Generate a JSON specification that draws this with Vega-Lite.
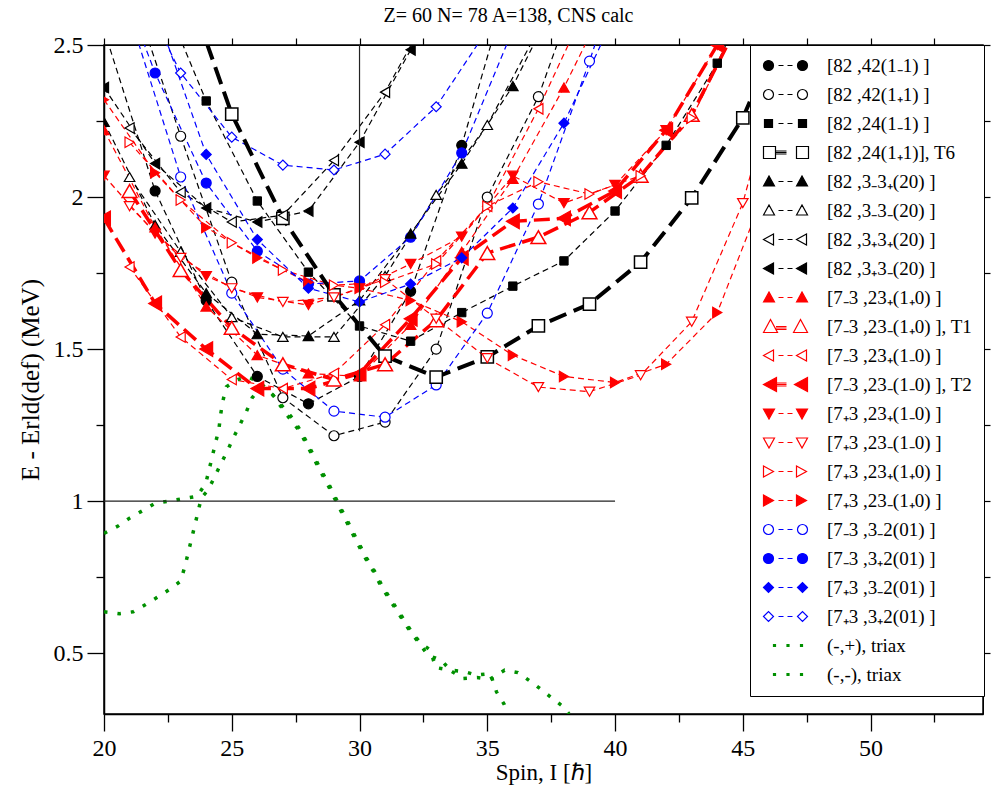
{
"$schema":"https://vega.github.io/schema/vega-lite/v6.json",
"width":879,"height":669,
"autosize":{"type":"none"},
"padding":{"left":104,"top":45,"right":9,"bottom":76},
"background":"white",
"title":{"text":"Z= 60 N= 78 A=138, CNS calc","font":"Liberation Serif","fontSize":20,"fontWeight":"normal","color":"black","offset":7,"frame":"group","dx":-35},
"config":{"view":{"stroke":"black","strokeWidth":1.5},"font":"Liberation Serif","title":{"fontSize":20}},
"datasets":{
"names":[
{"k":"A","name":"[82 ,42(1₋1) ]"},{"k":"B","name":"[82 ,42(1₊1) ]"},{"k":"C","name":"[82 ,24(1₋1) ]"},{"k":"D","name":"[82 ,24(1₊1)], T6"},
{"k":"E","name":"[82 ,3₋3₊(20) ]"},{"k":"F","name":"[82 ,3₋3₋(20) ]"},{"k":"G","name":"[82 ,3₊3₊(20) ]"},{"k":"H","name":"[82 ,3₊3₋(20) ]"},
{"k":"I","name":"[7₋3 ,23₊(1₊0) ]"},{"k":"J","name":"[7₋3 ,23₋(1₊0) ], T1"},{"k":"K","name":"[7₋3 ,23₊(1₋0) ]"},{"k":"L","name":"[7₋3 ,23₋(1₋0) ], T2"},
{"k":"M","name":"[7₊3 ,23₊(1₋0) ]"},{"k":"N","name":"[7₊3 ,23₋(1₋0) ]"},{"k":"O","name":"[7₊3 ,23₊(1₊0) ]"},{"k":"P","name":"[7₊3 ,23₋(1₊0) ]"},
{"k":"Q","name":"[7₋3 ,3₋2(01) ]"},{"k":"R","name":"[7₋3 ,3₊2(01) ]"},{"k":"S","name":"[7₊3 ,3₋2(01) ]"},{"k":"T","name":"[7₊3 ,3₊2(01) ]"},
{"k":"U","name":"(-,+), triax"},{"k":"V","name":"(-,-), triax"}
],
"curves":[
{"k":"A","x":20,"y":2.55},{"k":"A","x":22,"y":2.02},{"k":"A","x":24,"y":1.66},{"k":"A","x":26,"y":1.41},{"k":"A","x":28,"y":1.32},{"k":"A","x":30,"y":1.41},{"k":"A","x":32,"y":1.69},{"k":"A","x":34,"y":2.17},{"k":"A","x":36,"y":2.75},
{"k":"B","x":21,"y":2.7},{"k":"B","x":23,"y":2.2},{"k":"B","x":25,"y":1.72},{"k":"B","x":27,"y":1.34},{"k":"B","x":29,"y":1.215},{"k":"B","x":31,"y":1.26},{"k":"B","x":33,"y":1.5},{"k":"B","x":35,"y":2.0},{"k":"B","x":37,"y":2.33},{"k":"B","x":39,"y":2.8},
{"k":"C","x":22,"y":2.72},{"k":"C","x":24,"y":2.316},{"k":"C","x":26,"y":1.987},{"k":"C","x":28,"y":1.753},{"k":"C","x":30,"y":1.576},{"k":"C","x":32,"y":1.526},{"k":"C","x":34,"y":1.62},{"k":"C","x":36,"y":1.707},{"k":"C","x":38,"y":1.79},{"k":"C","x":40,"y":1.954},{"k":"C","x":42,"y":2.17},{"k":"C","x":44,"y":2.44},{"k":"C","x":46,"y":2.8},
{"k":"D","x":23,"y":2.75},{"k":"D","x":25,"y":2.273},{"k":"D","x":27,"y":1.93},{"k":"D","x":29,"y":1.678},{"k":"D","x":31,"y":1.477},{"k":"D","x":33,"y":1.408},{"k":"D","x":35,"y":1.474},{"k":"D","x":37,"y":1.576},{"k":"D","x":39,"y":1.648},{"k":"D","x":41,"y":1.786},{"k":"D","x":43,"y":1.997},{"k":"D","x":45,"y":2.26},{"k":"D","x":47,"y":2.65},
{"k":"E","x":20,"y":2.247},{"k":"E","x":22,"y":1.908},{"k":"E","x":24,"y":1.684},{"k":"E","x":26,"y":1.549},{"k":"E","x":28,"y":1.543},{"k":"E","x":30,"y":1.66},{"k":"E","x":32,"y":1.88},{"k":"E","x":34,"y":2.11},{"k":"E","x":36,"y":2.365},{"k":"E","x":38,"y":2.7},
{"k":"F","x":21,"y":2.066},{"k":"F","x":23,"y":1.82},{"k":"F","x":25,"y":1.605},{"k":"F","x":27,"y":1.54},{"k":"F","x":29,"y":1.54},{"k":"F","x":31,"y":1.74},{"k":"F","x":33,"y":2.007},{"k":"F","x":35,"y":2.237},{"k":"F","x":37,"y":2.55},
{"k":"G","x":21,"y":2.227},{"k":"G","x":23,"y":2.016},{"k":"G","x":25,"y":1.918},{"k":"G","x":27,"y":1.94},{"k":"G","x":29,"y":2.12},{"k":"G","x":31,"y":2.345},{"k":"G","x":33,"y":2.65},
{"k":"H","x":20,"y":2.36},{"k":"H","x":22,"y":2.11},{"k":"H","x":24,"y":1.964},{"k":"H","x":26,"y":1.918},{"k":"H","x":28,"y":1.954},{"k":"H","x":30,"y":2.18},{"k":"H","x":32,"y":2.484},{"k":"H","x":34,"y":2.85},
{"k":"I","x":20,"y":2.22},{"k":"I","x":22,"y":1.9},{"k":"I","x":24,"y":1.64},{"k":"I","x":26,"y":1.48},{"k":"I","x":28,"y":1.42},{"k":"I","x":30,"y":1.41},{"k":"I","x":32,"y":1.58},{"k":"I","x":34,"y":1.82},{"k":"I","x":36,"y":2.06},{"k":"I","x":38,"y":2.36},{"k":"I","x":40,"y":2.7},
{"k":"J","x":21,"y":2.02},{"k":"J","x":23,"y":1.76},{"k":"J","x":25,"y":1.57},{"k":"J","x":27,"y":1.45},{"k":"J","x":29,"y":1.4},{"k":"J","x":31,"y":1.45},{"k":"J","x":33,"y":1.595},{"k":"J","x":35,"y":1.816},{"k":"J","x":37,"y":1.868},{"k":"J","x":39,"y":1.95},{"k":"J","x":41,"y":2.07},{"k":"J","x":43,"y":2.27},{"k":"J","x":45,"y":2.6},
{"k":"K","x":21,"y":1.77},{"k":"K","x":23,"y":1.54},{"k":"K","x":25,"y":1.4},{"k":"K","x":27,"y":1.37},{"k":"K","x":29,"y":1.42},{"k":"K","x":31,"y":1.58},{"k":"K","x":33,"y":1.79},{"k":"K","x":35,"y":1.97},{"k":"K","x":37,"y":2.29},{"k":"K","x":39,"y":2.65},
{"k":"L","x":20,"y":1.93},{"k":"L","x":22,"y":1.65},{"k":"L","x":24,"y":1.5},{"k":"L","x":26,"y":1.37},{"k":"L","x":28,"y":1.37},{"k":"L","x":30,"y":1.42},{"k":"L","x":32,"y":1.6},{"k":"L","x":34,"y":1.8},{"k":"L","x":36,"y":1.92},{"k":"L","x":38,"y":1.93},{"k":"L","x":40,"y":2.02},{"k":"L","x":42,"y":2.22},{"k":"L","x":44,"y":2.5},{"k":"L","x":46,"y":2.85},
{"k":"M","x":20,"y":2.07},{"k":"M","x":22,"y":1.88},{"k":"M","x":24,"y":1.74},{"k":"M","x":26,"y":1.67},{"k":"M","x":28,"y":1.645},{"k":"M","x":30,"y":1.7},{"k":"M","x":32,"y":1.78},{"k":"M","x":34,"y":1.87},{"k":"M","x":36,"y":2.07},{"k":"M","x":38,"y":1.98},{"k":"M","x":40,"y":2.04},{"k":"M","x":42,"y":2.22},{"k":"M","x":44,"y":2.5},{"k":"M","x":46,"y":2.85},
{"k":"N","x":21,"y":1.97},{"k":"N","x":23,"y":1.8},{"k":"N","x":25,"y":1.7},{"k":"N","x":27,"y":1.655},{"k":"N","x":29,"y":1.67},{"k":"N","x":31,"y":1.73},{"k":"N","x":33,"y":1.6},{"k":"N","x":35,"y":1.47},{"k":"N","x":37,"y":1.375},{"k":"N","x":39,"y":1.36},{"k":"N","x":41,"y":1.414},{"k":"N","x":43,"y":1.59},{"k":"N","x":45,"y":1.98},{"k":"N","x":47,"y":2.6},
{"k":"O","x":21,"y":2.18},{"k":"O","x":23,"y":1.99},{"k":"O","x":25,"y":1.85},{"k":"O","x":27,"y":1.76},{"k":"O","x":29,"y":1.71},{"k":"O","x":31,"y":1.72},{"k":"O","x":33,"y":1.78},{"k":"O","x":35,"y":1.97},{"k":"O","x":37,"y":2.05},{"k":"O","x":39,"y":2.01},{"k":"O","x":41,"y":2.07},{"k":"O","x":43,"y":2.26},{"k":"O","x":45,"y":2.6},
{"k":"P","x":20,"y":2.32},{"k":"P","x":22,"y":2.08},{"k":"P","x":24,"y":1.9},{"k":"P","x":26,"y":1.8},{"k":"P","x":28,"y":1.72},{"k":"P","x":30,"y":1.7},{"k":"P","x":32,"y":1.66},{"k":"P","x":34,"y":1.59},{"k":"P","x":36,"y":1.48},{"k":"P","x":38,"y":1.41},{"k":"P","x":40,"y":1.39},{"k":"P","x":42,"y":1.45},{"k":"P","x":44,"y":1.62},{"k":"P","x":46,"y":2.05},{"k":"P","x":48,"y":2.6},
{"k":"Q","x":21,"y":2.6},{"k":"Q","x":23,"y":2.066},{"k":"Q","x":25,"y":1.684},{"k":"Q","x":27,"y":1.434},{"k":"Q","x":29,"y":1.296},{"k":"Q","x":31,"y":1.276},{"k":"Q","x":33,"y":1.382},{"k":"Q","x":35,"y":1.618},{"k":"Q","x":37,"y":1.977},{"k":"Q","x":39,"y":2.447},{"k":"Q","x":41,"y":2.95},
{"k":"R","x":20,"y":2.85},{"k":"R","x":22,"y":2.408},{"k":"R","x":24,"y":2.046},{"k":"R","x":26,"y":1.822},{"k":"R","x":28,"y":1.714},{"k":"R","x":30,"y":1.724},{"k":"R","x":32,"y":1.868},{"k":"R","x":34,"y":2.145},{"k":"R","x":36,"y":2.55},
{"k":"S","x":22,"y":2.62},{"k":"S","x":24,"y":2.14},{"k":"S","x":26,"y":1.86},{"k":"S","x":28,"y":1.7},{"k":"S","x":30,"y":1.655},{"k":"S","x":32,"y":1.714},{"k":"S","x":34,"y":1.8},{"k":"S","x":36,"y":1.964},{"k":"S","x":38,"y":2.243},{"k":"S","x":40,"y":2.6},
{"k":"T","x":21,"y":2.75},{"k":"T","x":23,"y":2.408},{"k":"T","x":25,"y":2.197},{"k":"T","x":27,"y":2.105},{"k":"T","x":29,"y":2.089},{"k":"T","x":31,"y":2.141},{"k":"T","x":33,"y":2.297},{"k":"T","x":35,"y":2.55},
{"k":"U","x":20,"y":0.894},{"k":"U","x":20.55,"y":0.918},{"k":"U","x":21.0,"y":0.944},{"k":"U","x":21.5,"y":0.968},{"k":"U","x":21.98,"y":0.992},{"k":"U","x":22.53,"y":1.0},{"k":"U","x":23.09,"y":1.008},{"k":"U","x":23.64,"y":1.016},{"k":"U","x":23.98,"y":1.058},{"k":"U","x":24.11,"y":1.102},{"k":"U","x":24.24,"y":1.148},{"k":"U","x":24.37,"y":1.193},{"k":"U","x":24.5,"y":1.239},{"k":"U","x":24.57,"y":1.288},{"k":"U","x":24.66,"y":1.332},{"k":"U","x":24.79,"y":1.376},{"k":"U","x":25.18,"y":1.398},{"k":"U","x":25.6,"y":1.41},{"k":"U","x":26.1,"y":1.39},{"k":"U","x":26.6,"y":1.35},{"k":"U","x":27.1,"y":1.29},{"k":"U","x":27.67,"y":1.228},{"k":"U","x":28.18,"y":1.146},{"k":"U","x":28.44,"y":1.102},{"k":"U","x":28.7,"y":1.064},{"k":"U","x":28.96,"y":1.02},{"k":"U","x":29.2,"y":0.979},{"k":"U","x":29.46,"y":0.938},{"k":"U","x":29.72,"y":0.894},{"k":"U","x":29.98,"y":0.852},{"k":"U","x":30.24,"y":0.811},{"k":"U","x":30.53,"y":0.771},{"k":"U","x":30.79,"y":0.729},{"k":"U","x":31.08,"y":0.689},{"k":"U","x":31.38,"y":0.65},{"k":"U","x":31.68,"y":0.611},{"k":"U","x":31.99,"y":0.57},{"k":"U","x":32.33,"y":0.534},{"k":"U","x":32.68,"y":0.493},{"k":"U","x":33.2,"y":0.477},{"k":"U","x":33.55,"y":0.444},{"k":"U","x":34.08,"y":0.44},{"k":"U","x":34.57,"y":0.428},{"k":"U","x":35.12,"y":0.433},{"k":"U","x":35.36,"y":0.373},{"k":"U","x":35.66,"y":0.332},{"k":"U","x":35.8,"y":0.3},
{"k":"V","x":20,"y":0.636},{"k":"V","x":20.61,"y":0.63},{"k":"V","x":21.14,"y":0.636},{"k":"V","x":21.63,"y":0.66},{"k":"V","x":22.11,"y":0.685},{"k":"V","x":22.57,"y":0.71},{"k":"V","x":23.0,"y":0.737},{"k":"V","x":23.16,"y":0.784},{"k":"V","x":23.29,"y":0.828},{"k":"V","x":23.42,"y":0.874},{"k":"V","x":23.55,"y":0.919},{"k":"V","x":23.68,"y":0.965},{"k":"V","x":23.81,"y":1.011},{"k":"V","x":24.07,"y":1.036},{"k":"V","x":24.33,"y":1.08},{"k":"V","x":24.57,"y":1.122},{"k":"V","x":24.83,"y":1.165},{"k":"V","x":25.05,"y":1.206},{"k":"V","x":25.31,"y":1.25},{"k":"V","x":25.55,"y":1.29},{"k":"V","x":25.8,"y":1.34},{"k":"V","x":26.1,"y":1.37},{"k":"V","x":26.5,"y":1.36},{"k":"V","x":27.0,"y":1.31},{"k":"V","x":27.4,"y":1.27},{"k":"V","x":27.72,"y":1.228},{"k":"V","x":28.23,"y":1.146},{"k":"V","x":28.49,"y":1.102},{"k":"V","x":28.75,"y":1.064},{"k":"V","x":29.01,"y":1.02},{"k":"V","x":29.25,"y":0.979},{"k":"V","x":29.51,"y":0.938},{"k":"V","x":29.77,"y":0.894},{"k":"V","x":30.03,"y":0.852},{"k":"V","x":30.29,"y":0.811},{"k":"V","x":30.58,"y":0.771},{"k":"V","x":30.84,"y":0.729},{"k":"V","x":31.13,"y":0.689},{"k":"V","x":31.43,"y":0.65},{"k":"V","x":31.73,"y":0.611},{"k":"V","x":32.04,"y":0.57},{"k":"V","x":32.38,"y":0.534},{"k":"V","x":32.77,"y":0.51},{"k":"V","x":32.98,"y":0.453},{"k":"V","x":33.53,"y":0.444},{"k":"V","x":34.05,"y":0.417},{"k":"V","x":34.6,"y":0.42},{"k":"V","x":35.1,"y":0.414},{"k":"V","x":35.68,"y":0.444},{"k":"V","x":36.2,"y":0.436},{"k":"V","x":36.66,"y":0.409},{"k":"V","x":37.12,"y":0.38},{"k":"V","x":37.55,"y":0.351},{"k":"V","x":37.99,"y":0.323},{"k":"V","x":38.2,"y":0.3}
]
},
"data":{"name":"curves"},
"transform":[{"lookup":"k","from":{"data":{"name":"names"},"key":"k","fields":["name"]}}],
"layer":[
{"transform":[{"filter":"false"}],
 "mark":{"type":"point","filled":true,"opacity":1,"strokeWidth":1.2,"size":100},
 "encoding":{
  "x":{"field":"x","type":"quantitative","scale":{"domain":[20,54.4],"nice":false,"zero":false},"axis":{"orient":"top","values":[20,22.5,25,27.5,30,32.5,35,37.5,40,42.5,45,47.5,50,52.5],"labels":false,"tickSize":7,"title":null,"grid":false,"domainColor":"black","tickColor":"black","tickWidth":1.2}},
  "y":{"field":"y","type":"quantitative","scale":{"domain":[0.3,2.5],"nice":false,"zero":false},"axis":{"orient":"right","values":[0.5,0.75,1,1.25,1.5,1.75,2,2.25,2.5],"labels":false,"tickSize":7,"title":null,"grid":false,"domainColor":"black","tickColor":"black","tickWidth":1.2}},
  "shape":{"field":"name","type":"nominal","scale":{"domain":["[82 ,42(1₋1) ]","[82 ,42(1₊1) ]","[82 ,24(1₋1) ]","[82 ,24(1₊1)], T6","[82 ,3₋3₊(20) ]","[82 ,3₋3₋(20) ]","[82 ,3₊3₊(20) ]","[82 ,3₊3₋(20) ]","[7₋3 ,23₊(1₊0) ]","[7₋3 ,23₋(1₊0) ], T1","[7₋3 ,23₊(1₋0) ]","[7₋3 ,23₋(1₋0) ], T2","[7₊3 ,23₊(1₋0) ]","[7₊3 ,23₋(1₋0) ]","[7₊3 ,23₊(1₊0) ]","[7₊3 ,23₋(1₊0) ]","[7₋3 ,3₋2(01) ]","[7₋3 ,3₊2(01) ]","[7₊3 ,3₋2(01) ]","[7₊3 ,3₊2(01) ]","(-,+), triax","(-,-), triax"],
   "range":["M-1.8,0A1,1 0 1,0 0.2,0A1,1 0 1,0 -1.8,0Z M1.2,0H2.2M3,0H4 M5,0A1,1 0 1,0 7,0A1,1 0 1,0 5,0Z",
   "M-1.8,0A1,1 0 1,0 0.2,0A1,1 0 1,0 -1.8,0Z M1.2,0H2.2M3,0H4 M5,0A1,1 0 1,0 7,0A1,1 0 1,0 5,0Z",
   "M-1.6,-0.8H0V0.8H-1.6Z M1.2,0H2.2M3,0H4 M5.2,-0.8H6.8V0.8H5.2Z",
   "M-1.8,-1.2H0.6V1.2H-1.8Z M0.6,-0.3H2.8M0.6,0H2.8M0.6,0.3H2.8 M4.8,-1.2H7.2V1.2H4.8Z",
   "M-1.8,0.9L-0.7,-1.1L0.4,0.9Z M1.2,0H2.2M3,0H4 M4.8,0.9L5.9,-1.1L7,0.9Z",
   "M-1.8,0.9L-0.7,-1.1L0.4,0.9Z M1.2,0H2.2M3,0H4 M4.8,0.9L5.9,-1.1L7,0.9Z",
   "M-1.8,0L0.2,-1.1L0.2,1.1Z M1.2,0H2.2M3,0H4 M4.8,0L6.8,-1.1L6.8,1.1Z",
   "M-1.8,0L0.2,-1.1L0.2,1.1Z M1.2,0H2.2M3,0H4 M4.8,0L6.8,-1.1L6.8,1.1Z",
   "M-1.8,0.9L-0.7,-1.1L0.4,0.9Z M1.2,0H2.2M3,0H4 M4.8,0.9L5.9,-1.1L7,0.9Z",
   "M-1.8,1.2L-0.4,-1.4L1,1.2Z M0.7,0H2.8M0.7,0.3H2.8M0.7,0.6H2.8 M4.2,1.2L5.6,-1.4L7,1.2Z",
   "M-1.8,0L0.2,-1.1L0.2,1.1Z M1.2,0H2.2M3,0H4 M4.8,0L6.8,-1.1L6.8,1.1Z",
   "M-1.8,0L0.8,-1.4L0.8,1.4Z M0.8,-0.3H2.8M0.8,0H2.8M0.8,0.3H2.8 M4.4,0L7,-1.4L7,1.4Z",
   "M-1.8,-0.9L0.4,-0.9L-0.7,1.1Z M1.2,0H2.2M3,0H4 M4.8,-0.9L7,-0.9L5.9,1.1Z",
   "M-1.8,-0.9L0.4,-0.9L-0.7,1.1Z M1.2,0H2.2M3,0H4 M4.8,-0.9L7,-0.9L5.9,1.1Z",
   "M0.2,0L-1.8,-1.1L-1.8,1.1Z M1.2,0H2.2M3,0H4 M6.8,0L4.8,-1.1L4.8,1.1Z",
   "M0.2,0L-1.8,-1.1L-1.8,1.1Z M1.2,0H2.2M3,0H4 M6.8,0L4.8,-1.1L4.8,1.1Z",
   "M-1.8,0A1,1 0 1,0 0.2,0A1,1 0 1,0 -1.8,0Z M1.2,0H2.2M3,0H4 M5,0A1,1 0 1,0 7,0A1,1 0 1,0 5,0Z",
   "M-1.8,0A1,1 0 1,0 0.2,0A1,1 0 1,0 -1.8,0Z M1.2,0H2.2M3,0H4 M5,0A1,1 0 1,0 7,0A1,1 0 1,0 5,0Z",
   "M-1.8,0L-0.8,-1L0.2,0L-0.8,1Z M1.2,0H2.2M3,0H4 M5,0L6,-1L7,0L6,1Z",
   "M-1.8,0L-0.8,-1L0.2,0L-0.8,1Z M1.2,0H2.2M3,0H4 M5,0L6,-1L7,0L6,1Z",
   "M0.2,-0.2H0.6V0.2H0.2Z M2.9,-0.2H3.3V0.2H2.9Z M5.6,-0.2H6V0.2H5.6Z",
   "M0.2,-0.2H0.6V0.2H0.2Z M2.9,-0.2H3.3V0.2H2.9Z M5.6,-0.2H6V0.2H5.6Z"]},
   "legend":{"orient":"none","legendX":646,"legendY":0,"direction":"vertical","title":null,"padding":11,"strokeColor":"black","fillColor":"white","labelFont":"Liberation Serif","labelFontSize":19,"labelColor":"black","labelOffset":45,"labelLimit":300,"rowPadding":9,"symbolSize":100,"symbolStrokeWidth":1.2,"symbolOffset":2,"symbolOpacity":1}},
  "stroke":{"field":"name","type":"nominal","scale":{"domain":["[82 ,42(1₋1) ]","[82 ,42(1₊1) ]","[82 ,24(1₋1) ]","[82 ,24(1₊1)], T6","[82 ,3₋3₊(20) ]","[82 ,3₋3₋(20) ]","[82 ,3₊3₊(20) ]","[82 ,3₊3₋(20) ]","[7₋3 ,23₊(1₊0) ]","[7₋3 ,23₋(1₊0) ], T1","[7₋3 ,23₊(1₋0) ]","[7₋3 ,23₋(1₋0) ], T2","[7₊3 ,23₊(1₋0) ]","[7₊3 ,23₋(1₋0) ]","[7₊3 ,23₊(1₊0) ]","[7₊3 ,23₋(1₊0) ]","[7₋3 ,3₋2(01) ]","[7₋3 ,3₊2(01) ]","[7₊3 ,3₋2(01) ]","[7₊3 ,3₊2(01) ]","(-,+), triax","(-,-), triax"],"range":["#000000","#000000","#000000","#000000","#000000","#000000","#000000","#000000","#ff0000","#ff0000","#ff0000","#ff0000","#ff0000","#ff0000","#ff0000","#ff0000","#0000ff","#0000ff","#0000ff","#0000ff","#009000","#009000"]},
   "legend":{"orient":"none","legendX":646,"legendY":0,"direction":"vertical","title":null,"padding":11,"strokeColor":"black","fillColor":"white","labelFont":"Liberation Serif","labelFontSize":19,"labelColor":"black","labelOffset":45,"labelLimit":300,"rowPadding":9,"symbolSize":100,"symbolStrokeWidth":1.2,"symbolOffset":2,"symbolOpacity":1}},
  "fill":{"field":"name","type":"nominal","scale":{"domain":["[82 ,42(1₋1) ]","[82 ,42(1₊1) ]","[82 ,24(1₋1) ]","[82 ,24(1₊1)], T6","[82 ,3₋3₊(20) ]","[82 ,3₋3₋(20) ]","[82 ,3₊3₊(20) ]","[82 ,3₊3₋(20) ]","[7₋3 ,23₊(1₊0) ]","[7₋3 ,23₋(1₊0) ], T1","[7₋3 ,23₊(1₋0) ]","[7₋3 ,23₋(1₋0) ], T2","[7₊3 ,23₊(1₋0) ]","[7₊3 ,23₋(1₋0) ]","[7₊3 ,23₊(1₊0) ]","[7₊3 ,23₋(1₊0) ]","[7₋3 ,3₋2(01) ]","[7₋3 ,3₊2(01) ]","[7₊3 ,3₋2(01) ]","[7₊3 ,3₊2(01) ]","(-,+), triax","(-,-), triax"],"range":["#000000","#ffffff","#000000","#ffffff","#000000","#ffffff","#ffffff","#000000","#ff0000","#ffffff","#ffffff","#ff0000","#ff0000","#ffffff","#ffffff","#ff0000","#ffffff","#0000ff","#0000ff","#ffffff","#009000","#009000"]},
   "legend":{"orient":"none","legendX":646,"legendY":0,"direction":"vertical","title":null,"padding":11,"strokeColor":"black","fillColor":"white","labelFont":"Liberation Serif","labelFontSize":19,"labelColor":"black","labelOffset":45,"labelLimit":300,"rowPadding":9,"symbolSize":100,"symbolStrokeWidth":1.2,"symbolOffset":2,"symbolOpacity":1}}}},
{"transform":[{"filter":{"not":{"field":"k","oneOf":["D","J","L","U","V"]}}}],
 "mark":{"type":"line","strokeDash":[6,4],"strokeWidth":1.2,"clip":true},
 "encoding":{"x":{"field":"x","type":"quantitative","axis":null},"y":{"field":"y","type":"quantitative","axis":null},
  "stroke":{"field":"name","type":"nominal","legend":null}}},
{"transform":[{"filter":{"field":"k","equal":"D"}}],
 "mark":{"type":"line","strokeDash":[18,8],"strokeWidth":4,"stroke":"#000000","clip":true},
 "encoding":{"x":{"field":"x","type":"quantitative","axis":null},"y":{"field":"y","type":"quantitative","axis":null}}},
{"transform":[{"filter":{"field":"k","oneOf":["J","L"]}}],
 "mark":{"type":"line","strokeDash":[16,7],"strokeWidth":3.5,"stroke":"#ff0000","clip":true},
 "encoding":{"x":{"field":"x","type":"quantitative","axis":null},"y":{"field":"y","type":"quantitative","axis":null},"detail":{"field":"k"}}},
{"transform":[{"filter":{"field":"k","oneOf":["U","V"]}}],
 "mark":{"type":"line","strokeDash":[3.5,10],"strokeWidth":3.5,"strokeCap":"butt","stroke":"#009000","clip":true},
 "encoding":{"x":{"field":"x","type":"quantitative","axis":null},"y":{"field":"y","type":"quantitative","axis":null},"detail":{"field":"k"}}},
{"transform":[{"filter":{"field":"k","oneOf":["A","B","Q","R"]}}],
 "mark":{"type":"point","shape":"circle","size":100,"filled":true,"strokeWidth":1.2,"opacity":1,"clip":true},
 "encoding":{"x":{"field":"x","type":"quantitative","axis":null},"y":{"field":"y","type":"quantitative","axis":null},
  "stroke":{"field":"name","type":"nominal","legend":null},"fill":{"field":"name","type":"nominal","legend":null}}},
{"transform":[{"filter":{"field":"k","equal":"C"}}],
 "mark":{"type":"point","shape":"square","size":70,"filled":true,"fill":"#000000","stroke":"#000000","strokeWidth":1,"opacity":1,"clip":true},
 "encoding":{"x":{"field":"x","type":"quantitative","axis":null},"y":{"field":"y","type":"quantitative","axis":null}}},
{"transform":[{"filter":{"field":"k","equal":"D"}}],
 "mark":{"type":"point","shape":"square","size":150,"filled":true,"fill":"#ffffff","stroke":"#000000","strokeWidth":1.5,"opacity":1,"clip":true},
 "encoding":{"x":{"field":"x","type":"quantitative","axis":null},"y":{"field":"y","type":"quantitative","axis":null}}},
{"transform":[{"filter":{"field":"k","oneOf":["E","F","I"]}}],
 "mark":{"type":"point","shape":"triangle-up","size":110,"filled":true,"strokeWidth":1.2,"opacity":1,"clip":true},
 "encoding":{"x":{"field":"x","type":"quantitative","axis":null},"y":{"field":"y","type":"quantitative","axis":null},
  "stroke":{"field":"name","type":"nominal","legend":null},"fill":{"field":"name","type":"nominal","legend":null}}},
{"transform":[{"filter":{"field":"k","equal":"J"}}],
 "mark":{"type":"point","shape":"triangle-up","size":220,"filled":true,"fill":"#ffffff","stroke":"#ff0000","strokeWidth":1.5,"opacity":1,"clip":true},
 "encoding":{"x":{"field":"x","type":"quantitative","axis":null},"y":{"field":"y","type":"quantitative","axis":null}}},
{"transform":[{"filter":{"field":"k","oneOf":["G","H","K"]}}],
 "mark":{"type":"point","shape":"triangle-left","size":110,"filled":true,"strokeWidth":1.2,"opacity":1,"clip":true},
 "encoding":{"x":{"field":"x","type":"quantitative","axis":null},"y":{"field":"y","type":"quantitative","axis":null},
  "stroke":{"field":"name","type":"nominal","legend":null},"fill":{"field":"name","type":"nominal","legend":null}}},
{"transform":[{"filter":{"field":"k","equal":"L"}}],
 "mark":{"type":"point","shape":"triangle-left","size":220,"filled":true,"fill":"#ff0000","stroke":"#ff0000","strokeWidth":1.2,"opacity":1,"clip":true},
 "encoding":{"x":{"field":"x","type":"quantitative","axis":null},"y":{"field":"y","type":"quantitative","axis":null}}},
{"transform":[{"filter":{"field":"k","oneOf":["M","N"]}}],
 "mark":{"type":"point","shape":"triangle-down","size":110,"filled":true,"strokeWidth":1.2,"opacity":1,"clip":true},
 "encoding":{"x":{"field":"x","type":"quantitative","axis":null},"y":{"field":"y","type":"quantitative","axis":null},
  "stroke":{"field":"name","type":"nominal","legend":null},"fill":{"field":"name","type":"nominal","legend":null}}},
{"transform":[{"filter":{"field":"k","oneOf":["O","P"]}}],
 "mark":{"type":"point","shape":"triangle-right","size":110,"filled":true,"strokeWidth":1.2,"opacity":1,"clip":true},
 "encoding":{"x":{"field":"x","type":"quantitative","axis":null},"y":{"field":"y","type":"quantitative","axis":null},
  "stroke":{"field":"name","type":"nominal","legend":null},"fill":{"field":"name","type":"nominal","legend":null}}},
{"transform":[{"filter":{"field":"k","oneOf":["S","T"]}}],
 "mark":{"type":"point","shape":"diamond","size":100,"filled":true,"strokeWidth":1.2,"opacity":1,"clip":true},
 "encoding":{"x":{"field":"x","type":"quantitative","axis":null},"y":{"field":"y","type":"quantitative","axis":null},
  "stroke":{"field":"name","type":"nominal","legend":null},"fill":{"field":"name","type":"nominal","legend":null}}},
{"data":{"values":[{"x":20,"x2":40,"y":1,"y2":1},{"x":30,"x2":30,"y":1.23,"y2":2.5}]},
 "mark":{"type":"rule","stroke":"#222222","strokeWidth":1.2},
 "encoding":{
  "x":{"field":"x","type":"quantitative","axis":{"orient":"bottom","values":[20,22.5,25,27.5,30,32.5,35,37.5,40,42.5,45,47.5,50,52.5],"labelExpr":"datum.value % 5 === 0 ? datum.value + '' : ''","tickSize":{"condition":{"test":"datum.value % 5 === 0","value":17},"value":8},"labelOverlap":false,"labelFlush":false,"title":"Spin, I [ℏ]","labelFont":"Liberation Serif","titleFont":"Liberation Serif","labelFontSize":24,"titleFontSize":23,"titleFontWeight":"normal","labelPadding":5,"titlePadding":1,"grid":false,"domainColor":"black","domainWidth":1.5,"tickColor":"black","tickWidth":1.3,"labelColor":"black","titleColor":"black"}},
  "x2":{"field":"x2"},
  "y":{"field":"y","type":"quantitative","axis":{"orient":"left","values":[0.5,0.75,1,1.25,1.5,1.75,2,2.25,2.5],"labelExpr":"(datum.value*2) % 1 === 0 ? datum.value + '' : ''","tickSize":{"condition":{"test":"(datum.value*2) % 1 === 0","value":17},"value":8},"labelOverlap":false,"labelFlush":false,"title":"E - Erld(def) (MeV)","labelFont":"Liberation Serif","titleFont":"Liberation Serif","labelFontSize":24,"titleFontSize":25,"titleFontWeight":"normal","labelPadding":4,"titlePadding":10,"grid":false,"domainColor":"black","domainWidth":1.5,"tickColor":"black","tickWidth":1.3,"labelColor":"black","titleColor":"black"}},
  "y2":{"field":"y2"}}}
]
}
